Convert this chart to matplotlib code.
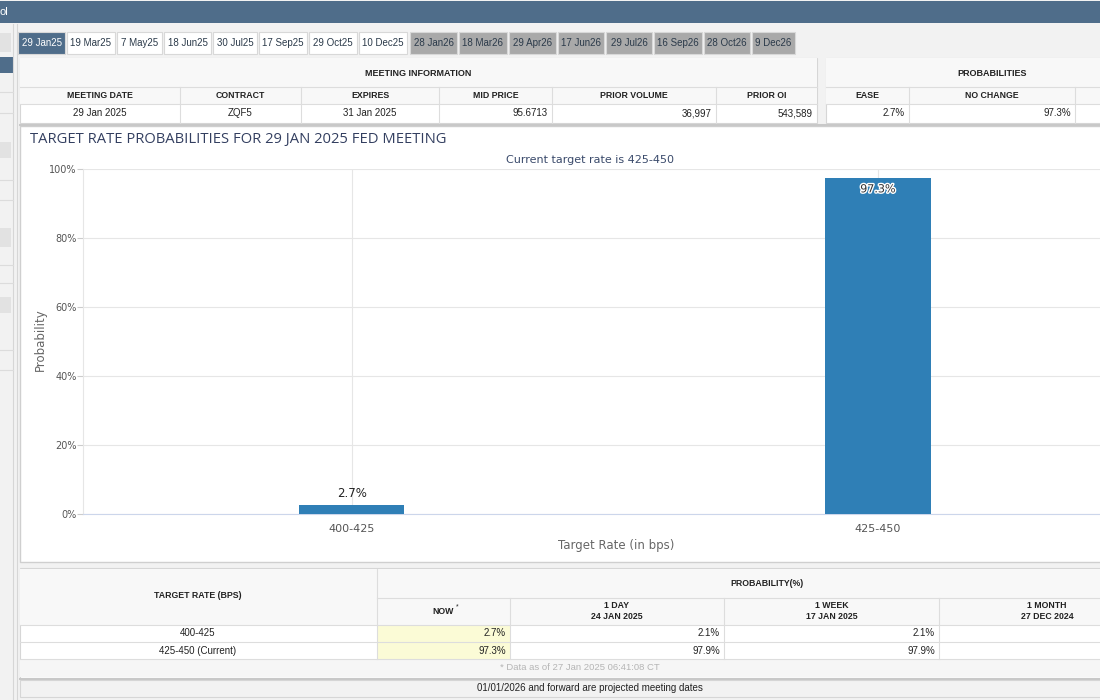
import matplotlib
matplotlib.use("Agg")
import matplotlib.pyplot as plt
import matplotlib.patheffects as pe
from matplotlib.patches import Rectangle

# ---- data ----
meeting_tabs = ["29 Jan25", "19 Mar25", "7 May25", "18 Jun25", "30 Jul25", "17 Sep25",
                "29 Oct25", "10 Dec25", "28 Jan26", "18 Mar26", "29 Apr26", "17 Jun26",
                "29 Jul26", "16 Sep26", "28 Oct26", "9 Dec26"]
projected_from = 8  # tabs from this index on are grey (projected)

info_headers = ["MEETING DATE", "CONTRACT", "EXPIRES", "MID PRICE", "PRIOR VOLUME", "PRIOR OI"]
info_values = ["29 Jan 2025", "ZQF5", "31 Jan 2025", "95.6713", "36,997", "543,589"]
prob_headers = ["EASE", "NO CHANGE"]
prob_values = ["2.7%", "97.3%"]

rates = ["400-425", "425-450"]
current_rate = "425-450"
probs_now = [2.7, 97.3]
probs_1day = [2.1, 97.9]
probs_1week = [2.1, 97.9]
probs_1month = [None, None]
hist_cols = ["1 DAY\n24 JAN 2025", "1 WEEK\n17 JAN 2025", "1 MONTH\n27 DEC 2024"]
data_stamp = "* Data as of 27 Jan 2025 06:41:08 CT"
meeting_name = "29 JAN 2025"

UI = "Liberation Sans"
CH = "DejaVu Sans"
NAVY = "#4f6d8a"
LINE = "#dddddd"

fig = plt.figure(figsize=(11, 7), dpi=100)
fig.patch.set_facecolor("#f2f2f2")
bg = fig.add_axes([0, 0, 1, 1])
bg.set_xlim(0, 1100)
bg.set_ylim(700, 0)
bg.axis("off")


def box(x0, y0, x1, y1, fc="white", ec="none", lw=0.8, z=1):
    bg.add_patch(Rectangle((x0, y0), x1 - x0, y1 - y0, facecolor=fc, edgecolor=ec, linewidth=lw, zorder=z))


def hline(y, x0, x1, c=LINE, lw=0.8):
    bg.plot([x0, x1], [y, y], color=c, lw=lw, zorder=3)


def vline(x, y0, y1, c=LINE, lw=0.8):
    bg.plot([x, x], [y0, y1], color=c, lw=lw, zorder=3)


def t(x, y, s, size=6.8, ha="center", c="#222222", bold=False, fam=UI):
    bg.text(x, y, s, fontsize=size, ha=ha, va="center", color=c, family=fam,
            fontweight="bold" if bold else "normal", zorder=5, linespacing=1.15)


# top bar
box(0, 1, 1100, 23, fc=NAVY)
t(0, 12, "ol", size=8, ha="left", c="white")

# left sidebar
vline(13, 24, 700, c="#d6d6d6")
vline(17, 24, 700, c="#d6d6d6")
box(0, 57, 13, 73, fc=NAVY)
for y0, y1 in [(33, 52), (142, 158), (228, 247), (297, 313)]:
    box(0, y0, 11, y1, fc="#e2e2e2")
for y in [92, 113, 180, 200, 265, 283, 350, 370]:
    hline(y, 0, 13, c="#dcdcdc")

# meeting tabs
tab_edges = [(18, 65), (67, 115), (117, 162), (164, 211), (213, 257), (259, 307),
             (309, 357), (359, 407), (410, 457), (459, 507), (509, 556), (558, 604),
             (606, 652), (654, 702), (704, 750), (752, 795)]
for i, (name, (x0, x1)) in enumerate(zip(meeting_tabs, tab_edges)):
    if i == 0:
        fc, tc = NAVY, "white"
    elif i >= projected_from:
        fc, tc = "#a9a9a9", "#2b3a4a"
    else:
        fc, tc = "white", "#2b3a4a"
    box(x0, 32, x1, 54, fc=fc, ec="#d8d8d8")
    t((x0 + x1) / 2, 43.5, name, size=7, c=tc)

# meeting information panel
box(20, 58, 817, 123, ec="#d6d6d6")
box(20, 58, 817, 104, fc="#f8f8f8", z=2)
t(418, 73, "MEETING INFORMATION", bold=True, size=6.5)
hline(87, 20, 817)
hline(104, 20, 817)
info_cols = [20, 180, 301, 439, 552, 716, 817]
for x in info_cols[1:-1]:
    vline(x, 87, 123)
for i, (h, v) in enumerate(zip(info_headers, info_values)):
    xa, xb = info_cols[i], info_cols[i + 1]
    t((xa + xb) / 2, 96, h, bold=True, size=6.3)
    if i >= 3:
        t(xb - 4, 113, v, ha="right", size=7)
    else:
        t((xa + xb) / 2, 113, v, size=7)

# probabilities panel
box(826, 58, 1104, 123, ec="#d6d6d6")
box(826, 58, 1104, 104, fc="#f8f8f8", z=2)
t(992, 73, "PROBABILITIES", bold=True, size=6.5)
hline(87, 826, 1100)
hline(104, 826, 1100)
prob_cols = [826, 909, 1075]
for x in prob_cols[1:]:
    vline(x, 87, 123)
for i, (h, v) in enumerate(zip(prob_headers, prob_values)):
    xa, xb = prob_cols[i], prob_cols[i + 1]
    t((xa + xb) / 2, 96, h, bold=True, size=6.3)
    t(xb - 4, 113, v, ha="right", size=7)
hline(124.5, 20, 1100, c="#c8c8c8", lw=1.5)

# chart panel
box(20, 126, 1104, 562, ec="#cfcfcf", lw=1.0)
t(30, 139.5, "TARGET RATE PROBABILITIES FOR %s FED MEETING" % meeting_name,
  size=10.6, ha="left", c="#333f60", fam="Open Sans")
t(590, 160, "Current target rate is %s" % current_rate, size=8, c="#3a4a6b", fam=CH)

ax = fig.add_axes([83 / 1100, (700 - 514) / 700, (1100 - 83) / 1100, (514 - 169) / 700])
ax.set_facecolor("white")
xs = list(range(len(rates)))
bars = ax.bar(xs, probs_now, width=0.2, color="#2f7fb6", zorder=3)
ax.set_xlim(-0.511, 1.422)
ax.set_ylim(0, 100)
ax.set_yticks([0, 20, 40, 60, 80, 100])
ax.set_yticklabels(["%d%%" % v for v in [0, 20, 40, 60, 80, 100]])
ax.set_xticks(xs)
ax.set_xticklabels(rates)
ax.grid(True, axis="both", color="#e6e6e6", lw=0.8, zorder=0)
for s in ["top", "right"]:
    ax.spines[s].set_visible(False)
ax.spines["left"].set_color("#e6e6e6")
ax.spines["bottom"].set_color("#ccd6eb")
ax.tick_params(axis="y", length=4, color="#cccccc", labelsize=7, labelcolor="#555555", pad=0.5)
ax.tick_params(axis="x", length=0, labelsize=8, labelcolor="#555555", pad=7)
for lab in ax.get_xticklabels() + ax.get_yticklabels():
    lab.set_family(CH)
ax.set_ylabel("Probability", fontsize=8.5, color="#666666", family=CH)
ax.yaxis.set_label_coords(-0.036, 0.504)
ax.set_xlabel("Target Rate (in bps)", fontsize=8.5, color="#666666", family=CH)
ax.xaxis.set_label_coords(0.524, -0.072)
for x, v in zip(xs, probs_now):
    if v > 50:
        ax.text(x, v - 3.2, "%.1f%%" % v, ha="center", va="center", fontsize=8, color="#333333",
                family=CH, path_effects=[pe.withStroke(linewidth=2, foreground="white")], zorder=5)
    else:
        ax.text(x, v + 3.3, "%.1f%%" % v, ha="center", va="center", fontsize=8.5, color="#222222",
                family=CH, zorder=5)

# probability table
box(20, 568, 1104, 678, ec="#d6d6d6")
box(20, 569, 1104, 625, fc="#f8f8f8", z=2)
box(20, 659, 1104, 677, fc="#f6f6f6", z=2)
box(377, 625, 510, 659, fc="#fbfbd6", z=2)
hline(598, 377, 1100)
hline(625, 20, 1100)
hline(642, 20, 1100)
hline(659, 20, 1100)
vline(377, 569, 659)
tbl_cols = [377, 510, 724, 939, 1155]
for x in tbl_cols[1:-1]:
    vline(x, 598, 659)
hline(678.5, 20, 1100, c="#c8c8c8", lw=1.5)
t(198, 596, "TARGET RATE (BPS)", bold=True, size=6.3)
t(767, 583, "PROBABILITY(%)", bold=True, size=6.3)
t(443, 611, "NOW", bold=True, size=6.3)
t(457, 607, "*", size=5)
for i, h in enumerate(hist_cols):
    t((tbl_cols[i + 1] + tbl_cols[i + 2]) / 2, 611, h, bold=True, size=6.3)
row_y = [633.5, 650.5]
series = [probs_now, probs_1day, probs_1week, probs_1month]
for r, (rate, y) in enumerate(zip(rates, row_y)):
    label = rate + (" (Current)" if rate == current_rate else "")
    t(198, y, label, size=7)
    for c, vals in enumerate(series):
        if vals[r] is not None:
            t(tbl_cols[c + 1] - 4, y, "%.1f%%" % vals[r], ha="right", size=7)
t(580, 668, data_stamp, size=6.8, c="#b5b5b5")

box(20, 680, 1104, 697, fc="#f2f2f2", ec="#d6d6d6")
t(590, 688, "01/01/2026 and forward are projected meeting dates", size=7)

fig.savefig("out.png", dpi=100, facecolor=fig.get_facecolor())
